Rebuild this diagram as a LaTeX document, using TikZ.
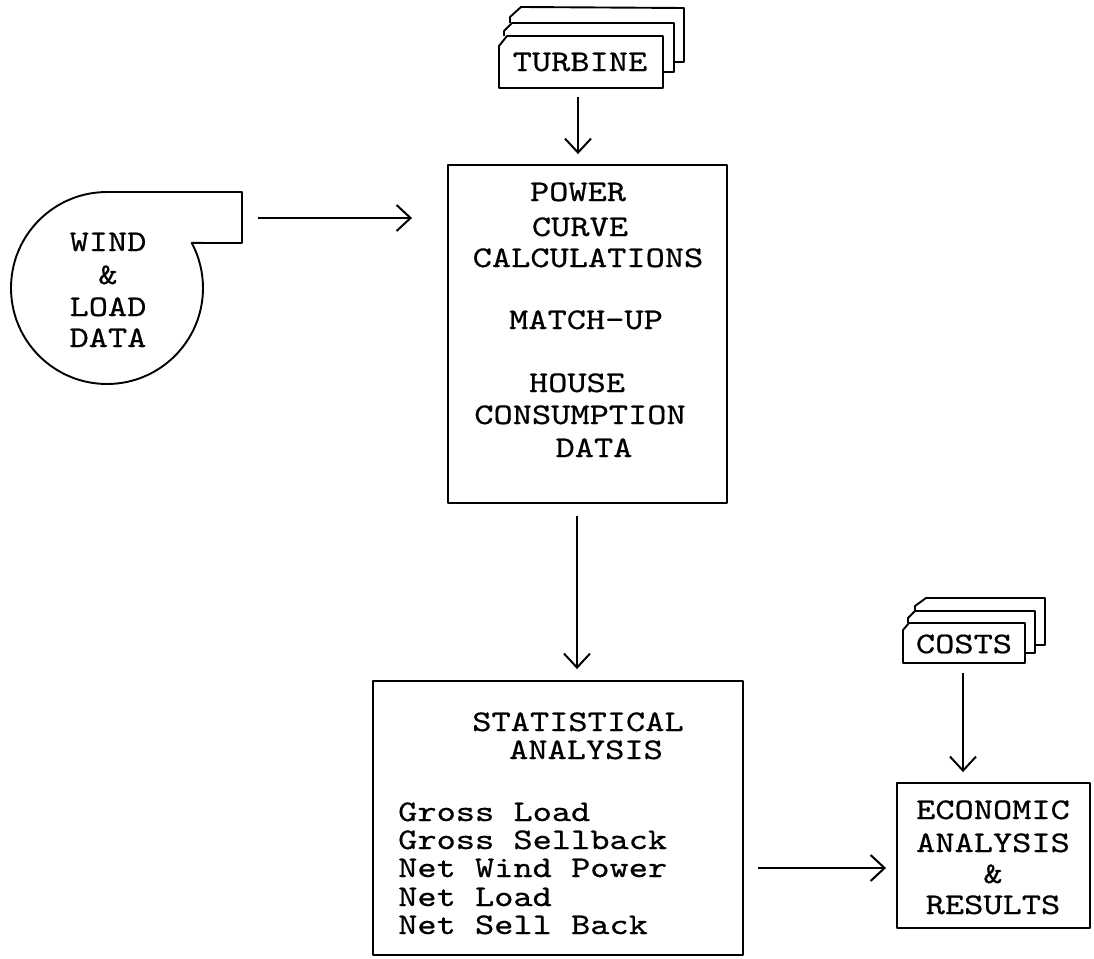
\documentclass[tikz,border=0pt]{standalone}
\usepackage{fontspec}
\newfontfamily\tw{lmmono10-regular.otf}[FakeStretch=1.22,FakeBold=0.6]
\usetikzlibrary{arrows.meta}
\begin{document}
\begin{tikzpicture}[x=1pt,y=-1pt,line join=round,
  outl/.style={line width=1.9pt},
  boxnode/.style={draw,line width=1.9pt,inner sep=0pt,rectangle},
  plain/.style={inner sep=0pt},
  txt/.style={inner sep=0pt,font=\tw\fontsize{30}{32}\selectfont,anchor=base},
  ltxt/.style={txt,anchor=base west},
  arr/.style={-{Straight Barb[length=14pt,width=26pt,line width=2pt]},line width=2.2pt}]
\useasboundingbox (0,0) rectangle (1094,958);

% ---- TURBINE card stack
\draw[outl] (510,23) -- (510,17) -- (521,7) -- (684,8) -- (684,62) -- (674,62);
\draw[outl] (504,36) -- (504,31) -- (512,23) -- (674,23) -- (674,72) -- (663,72);
\draw[outl] (499,88) -- (499,46) -- (507,36) -- (663,36) -- (663,88) -- cycle;
\node[plain,minimum width=164pt,minimum height=52pt,font=\tw\fontsize{30}{32}\selectfont] (turbine) at (580,62) {TURBINE};

% ---- POWER box
\node[boxnode,minimum width=279pt,minimum height=338pt] (power) at (587.5,334) {};
\node[txt] (p1) at (578,201) {POWER};
\node[txt] (p2) at (580,236) {CURVE};
\node[txt] (p3) at (588,267) {CALCULATIONS};
\node[txt] (p4) at (586,329) {MATCH-UP};
\node[txt] (p5) at (577,392) {HOUSE};
\node[txt] (p6) at (580,424) {CONSUMPTION};
\node[txt] (p7) at (594,457) {DATA};

% ---- WIND & LOAD DATA shape
\draw[outl] (107,192) arc[start angle=90,end angle=388,radius=96pt] -- (242,243) -- (242,192) -- cycle;
\coordinate (windtab) at (242,218);
\node[txt] (w1) at (108,251) {WIND};
\node[txt] (w2) at (108,284) {\&};
\node[txt] (w3) at (108,316) {LOAD};
\node[txt] (w4) at (108,347) {DATA};

% ---- STATISTICAL box
\node[boxnode,minimum width=370pt,minimum height=274pt] (stat) at (558,818) {};
\node[txt] (s1) at (578,731) {STATISTICAL};
\node[txt] (s2) at (586,759) {ANALYSIS};
\node[ltxt] (s3) at (398,821) {Gross Load};
\node[ltxt] (s4) at (398,849) {Gross Sellback};
\node[ltxt] (s5) at (398,877) {Net Wind Power};
\node[ltxt] (s6) at (398,906) {Net Load};
\node[ltxt] (s7) at (398,934) {Net Sell Back};

% ---- COSTS card stack
\draw[outl] (915,611) -- (915,606) -- (926,598) -- (1045,598) -- (1045,645) -- (1035,645);
\draw[outl] (908,623) -- (908,618) -- (915,611) -- (1035,611) -- (1035,653) -- (1025,653);
\draw[outl] (903,663) -- (903,630) -- (909,623) -- (1025,623) -- (1025,663) -- cycle;
\node[plain,minimum width=122pt,minimum height=40pt,font=\tw\fontsize{30}{32}\selectfont] (costs) at (964,644) {COSTS};

% ---- ECONOMIC box
\node[boxnode,minimum width=193pt,minimum height=145pt] (econ) at (993.5,855.5) {};
\node[txt] (e1) at (993,819) {ECONOMIC};
\node[txt] (e2) at (993,852) {ANALYSIS};
\node[txt] (e3) at (993,883) {\&};
\node[txt] (e4) at (993,914) {RESULTS};

% ---- connectors
\draw[arr,shorten >=10pt] ([xshift=-2pt,yshift=-9pt]turbine.south) -- ([xshift=-2pt]turbine.south |- power.north);
\draw[arr,shorten >=35pt] ([xshift=16pt]windtab) -- (windtab -| power.west);
\draw[arr,shorten >=11pt] ([xshift=-10.5pt,yshift=-12pt]power.south) -- ([xshift=-10.5pt]power.south |- stat.north);
\draw[arr,shorten >=10pt] ([xshift=-1pt,yshift=-9pt]costs.south) -- ([xshift=-1pt]costs.south |- econ.north);
\draw[arr,shorten >=10pt] ([xshift=14pt,yshift=-50pt]stat.east) -- ([yshift=-50pt]stat.east -| econ.west);
\end{tikzpicture}
\end{document}
